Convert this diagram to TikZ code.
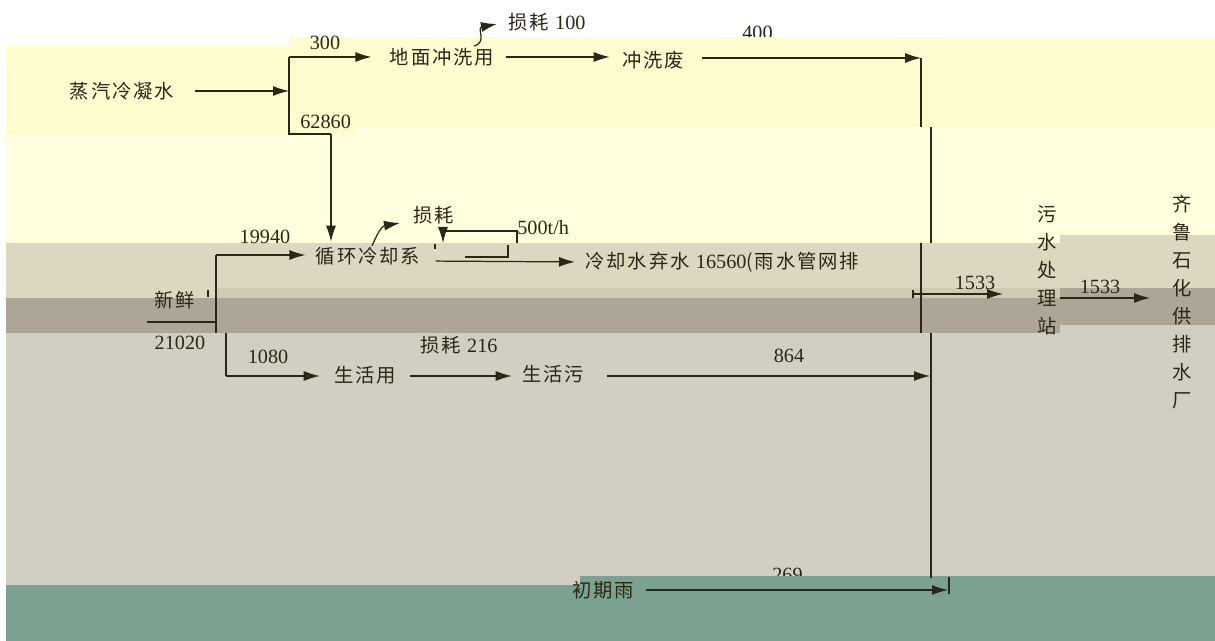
\documentclass[tikz,border=0pt]{standalone}
\usepackage{fontspec}
\setmainfont{Liberation Serif}
\newfontfamily\cjk[LetterSpace=10]{Noto Sans CJK SC}
\usetikzlibrary{arrows.meta}
\definecolor{band1}{HTML}{FFFDD0}
\definecolor{band2}{HTML}{FFFEDF}
\definecolor{band3}{HTML}{DCD7C1}
\definecolor{stripe}{HTML}{CFCAB6}
\definecolor{band4}{HTML}{ADA697}
\definecolor{band5}{HTML}{D1CEC2}
\definecolor{band6}{HTML}{7BA190}
\definecolor{ink}{HTML}{2B2616}
\tikzstyle{txt}=[font={\cjk\fontsize{11}{15.9}\selectfont}, text=ink, inner sep=0pt, align=center]
\tikzstyle{num}=[font={\fontsize{11.5}{13}\selectfont}, text=ink, inner sep=0pt]
\tikzstyle{wire}=[draw=ink, line width=0.7pt]
\tikzstyle{flow}=[wire, -{Latex[length=3.2mm,width=2mm]}]

\begin{document}
\begin{tikzpicture}[x=0.02cm, y=-0.02cm]
	\useasboundingbox (0,0) rectangle (1215,641);
	\node[num, anchor=base west] (q400) at (742,40) {400};
	% bands
	\fill[band2] (6,127) rectangle (1215,243);
	\fill[band1] (6,45) rectangle (355,135);
	\fill[band1] (290,37) rectangle (1215,127);
	\fill[band3] (6,243) rectangle (1215,298);
	\fill[band3] (1060,235) rectangle (1215,288);
	\fill[stripe] (216,288) rectangle (1060,298);
	\fill[band4] (6,298) rectangle (1060,333);
	\fill[band4] (1060,288) rectangle (1215,325);
	\fill[band5] (6,333) rectangle (1215,585);
	\fill[band5] (1060,325) rectangle (1215,333);
	\node[num, anchor=base west] (q269) at (772,582) {269};
	\fill[band6] (6,585) rectangle (1215,641);
	\fill[band6] (580,576) rectangle (1215,585);

	\node[txt] (zqln) at (122,91) {蒸汽冷凝水};
	\node[txt] (dmcx) at (442,57) {地面冲洗用};
	\node[txt] (cxf) at (653,60) {冲洗废};
	\node[txt] (xhlq) at (368,256) {循环冷却系};
	\node[txt] (xx) at (175,300) {新鲜};
	\node[txt] (shy) at (365,375) {生活用};
	\node[txt] (shw) at (553,374) {生活污};
	\node[txt, anchor=west] (lqs) at (585,262) {冷却水弃水 {\rmfamily\fontsize{11.5}{13}\selectfont 16560}(雨水管网排};
	\node[txt] (cqy) at (603,590) {初期雨};
	\node[txt] (wsc) at (1047,270) {污\\水\\处\\理\\站};
	\node[txt] (qlsh) at (1182,302) {齐\\鲁\\石\\化\\供\\排\\水\\厂};
	\node[txt, anchor=west] (sh100) at (508,22) {损耗 {\rmfamily\fontsize{11.5}{13}\selectfont 100}};
	\node[txt] (sh) at (434,215) {损耗};
	\node[txt, anchor=west] (sh216) at (420,345) {损耗 {\rmfamily\fontsize{11.5}{13}\selectfont 216}};
	\node[num] (q300) at (325,43) {300};
	\node[num, anchor=west] (q62860) at (300,122) {62860};
	\node[num] (q19940) at (265,237) {19940};
	\node[num] (q21020) at (180,343) {21020};
	\node[num] (q1080) at (268,357) {1080};
	\node[num] (q864) at (789,356) {864};
	\node[num, anchor=west] (q500) at (517,228) {500t/h};
	\node[num] (q1533a) at (975,283) {1533};
	\node[num] (q1533b) at (1100,287) {1533};

	\coordinate (j1) at (289,91);
	\coordinate (j1t) at (289,57);
	\coordinate (j1b) at (289,134);
	\coordinate (j2) at (331,134);
	\coordinate (j3) at (216,255);
	\coordinate (j3b) at (216,333);
	\coordinate (j4) at (226,333);
	\coordinate (j4b) at (226,376);
	\coordinate (b1) at (921,58);
	\coordinate (b2) at (921,127);
	\coordinate (b3) at (931,127);
	\coordinate (b4) at (931,243);
	\coordinate (b5) at (921,243);
	\coordinate (b6) at (921,333);
	\coordinate (b7) at (931,333);
	\coordinate (b8) at (931,578);

	\draw[flow, shorten <=0.4cm] (zqln.east) -- (j1);
	\draw[wire] (j1t) -- (j1b) -- (j2);
	\draw[flow, shorten >=0.36cm] (j1t) -- (dmcx.west |- j1t);
	\draw[flow, shorten >=0.1cm] (j2) -- (j2 |- xhlq.north);
	\draw[flow, shorten <=0.22cm, shorten >=0.24cm] (dmcx.east) -- (cxf.west |- dmcx.east);
	\draw[flow, shorten <=0.36cm] (cxf.east |- b1) -- (b1);
	\draw[wire] (b1) -- (b2) (b3) -- (b4) (b5) -- (b6) (b7) -- (b8);
	\draw[flow] (474,46) .. controls (488,42) and (476,28) .. (497,24);

	\draw[wire] (j3b) -- (j3);
	\draw[flow, shorten >=0.2cm] (j3) -- (xhlq.west |- j3);
	\draw[wire] (147,322) -- (215,322);
	\draw[wire] (208,290) -- (208,297);
	\draw[wire] (j4) -- (j4b);
	\draw[flow, shorten >=0.28cm] (j4b) -- (shy.west |- j4b);
	\draw[flow, shorten <=0.28cm, shorten >=0.2cm] (shy.east |- j4b) -- (shw.west |- j4b);
	\draw[flow, shorten <=0.46cm] (shw.east |- j4b) -- (930,376);

	\draw[flow] (372,246) .. controls (378,232) and (382,226) .. (400,223);
	\draw[wire] (435,244) -- (435,249);
	\draw[flow] (517,243) -- (517,231) -- (443,231) -- (443,243);
	\draw[wire] (465,257) -- (508,257) -- (508,245);
	\draw[flow, shorten <=0.3cm, shorten >=0.2cm] (xhlq.east |- lqs.west) ++(0,-1) -- (lqs.west);

	\draw[wire] (913,290) -- (913,298);
	\draw[flow] (913,294) -- (1003,294);
	\draw[flow] (1060,298) -- (1150,298);

	\draw[flow, shorten <=0.24cm] (cqy.east) -- (948,590);
	\draw[wire] (949,577) -- (949,594);
\end{tikzpicture}
\end{document}
